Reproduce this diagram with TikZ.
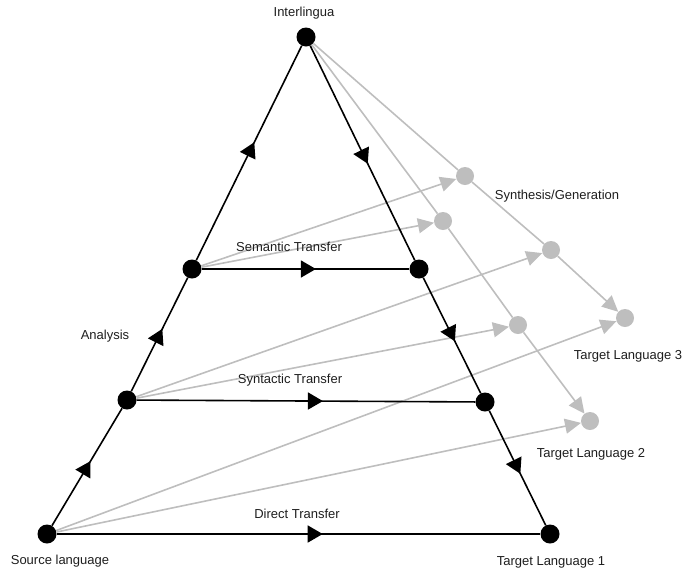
\documentclass[tikz,border=0pt]{standalone}
\usepackage{fontspec}
\setmainfont{Liberation Sans}
\usetikzlibrary{arrows.meta,decorations.markings}
\definecolor{lg}{RGB}{190,190,190}
\definecolor{txt}{RGB}{30,30,30}
\begin{document}
\begin{tikzpicture}[x=1pt,y=-1pt,
 bdot/.style={circle,fill=black,minimum size=19pt,inner sep=0pt},
 gdot/.style={circle,fill=lg,minimum size=18pt,inner sep=0pt},
 bline/.style={line width=1.6pt,black,postaction={decorate},
   decoration={markings,mark=at position 0.55 with {\arrow{Triangle[length=15pt,width=17pt]}}}},
 gline/.style={line width=1.6pt,lg},
 garrow/.style={gline,-{Triangle[length=16pt,width=15pt]}},
 lbl/.style={font=\fontsize{13}{15}\selectfont,text=txt,inner sep=0pt}
]
\useasboundingbox (0,0) rectangle (684,571);
% grey nodes
\node[gdot] (g3a) at (465,176) {};
\node[gdot] (g3b) at (551,250) {};
\node[gdot] (t3) at (625,318) {};
\node[gdot] (g2a) at (443,221) {};
\node[gdot] (g2b) at (518,325) {};
\node[gdot] (t2) at (590,421) {};
% black nodes
\node[bdot] (il) at (306,37) {};
\node[bdot] (sl) at (192,269) {};
\node[bdot] (sr) at (419,269) {};
\node[bdot] (yl) at (127,400) {};
\node[bdot] (yr) at (485,402) {};
\node[bdot] (src) at (47,534) {};
\node[bdot] (t1) at (550,534) {};
% grey connectors
\draw[gline] (il) -- (g3a);
\draw[gline] (g3a) -- (g3b);
\draw[garrow] (g3b) -- (t3);
\draw[gline] (il) -- (g2a);
\draw[gline] (g2a) -- (g2b);
\draw[garrow] (g2b) -- (t2);
\draw[garrow] (sl) -- (g3a);
\draw[garrow] (sl) -- (g2a);
\draw[garrow] (yl) -- (g3b);
\draw[garrow] (yl) -- (g2b);
\draw[garrow] (src) -- (t3);
\draw[garrow] (src) -- (t2);
% black connectors
\draw[bline] (src) -- (yl);
\draw[bline] (yl) -- (sl);
\draw[bline] (sl) -- (il);
\draw[bline] (il) -- (sr);
\draw[bline] (sr) -- (yr);
\draw[bline] (yr) -- (t1);
\draw[bline] (sl) -- (sr);
\draw[bline] (yl) -- (yr);
\draw[bline] (src) -- (t1);
% labels
\node[lbl] (lil) at (304,13) {Interlingua};
\node[lbl] (lsem) at (289,247) {Semantic Transfer};
\node[lbl] (lsyn) at (290,380) {Syntactic Transfer};
\node[lbl] (ldir) at (297,514) {Direct Transfer};
\node[lbl] (lsrc) at (60,561) {Source language};
\node[lbl] (lt1) at (551,562) {Target Language 1};
\node[lbl] (lt2) at (591,454) {Target Language 2};
\node[lbl] (lt3) at (628,356) {Target Language 3};
\node[lbl] (lsg) at (557,196) {Synthesis/Generation};
\node[lbl] (lan) at (105,336) {Analysis};
\end{tikzpicture}
\end{document}
